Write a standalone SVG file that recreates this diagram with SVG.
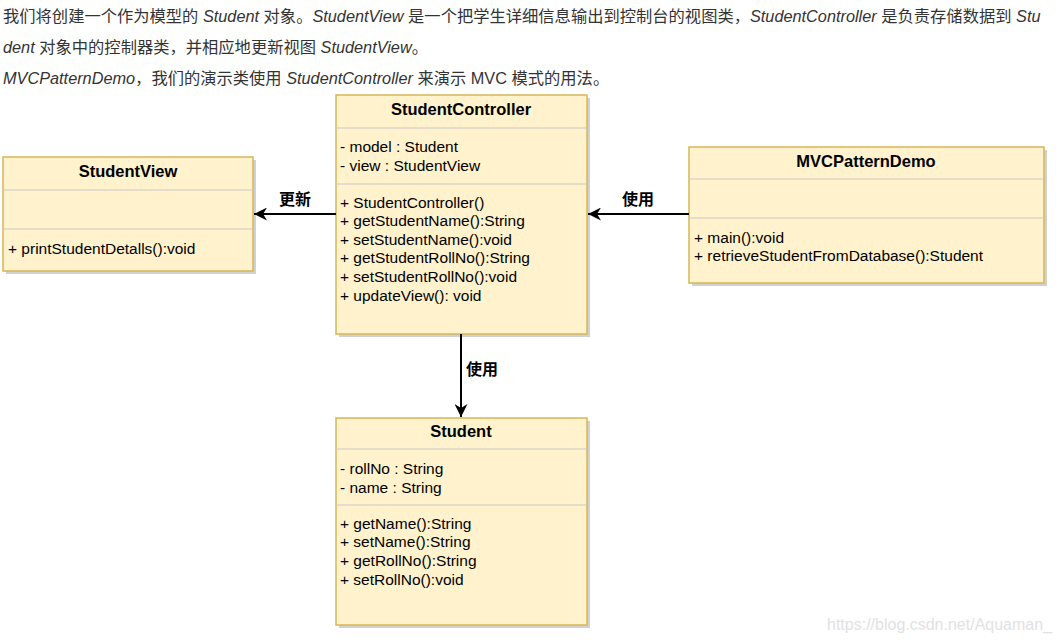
<svg xmlns="http://www.w3.org/2000/svg" width="1058" height="642" viewBox="0 0 1058 642">
<style>
.intro{font-family:"Liberation Sans","Noto Sans CJK SC",sans-serif;font-size:16.3px;fill:#333}
.i{font-style:italic}
.box{fill:#fff2cc;stroke:#d6b656;stroke-width:1.5}
.shadow{fill:#000;opacity:0.18}
.div{stroke:#c8c8c8;stroke-width:1}
.t{font-family:"Liberation Sans","Noto Sans CJK SC",sans-serif;font-size:15.5px;fill:#000}
.h{font-weight:bold;text-anchor:middle;font-size:16.5px}
.lbl{font-family:"Liberation Sans","Noto Sans CJK SC",sans-serif;font-size:16px;font-weight:bold;fill:#000;text-anchor:middle}
.edge{stroke:#000;stroke-width:2;fill:none}
.wm{font-family:"Liberation Sans",sans-serif;font-size:16px;fill:#e2e2e2}
</style>
<defs>
<marker id="arr" viewBox="0 0 10 10" refX="10" refY="5" markerWidth="6.5" markerHeight="6.5" orient="auto" markerUnits="strokeWidth">
<path d="M0,0 L10,5 L0,10 L3,5 z" fill="#000"/>
</marker>
</defs>
<rect width="1058" height="642" fill="#fff"/>
<g id="intro">
<text class="intro" x="3" y="22">我们将创建一个作为模型的 <tspan class="i">Student</tspan> 对象。<tspan class="i">StudentView</tspan> 是一个把学生详细信息输出到控制台的视图类，<tspan class="i">StudentController</tspan> 是负责存储数据到 <tspan class="i">Stu</tspan></text>
<text class="intro" x="3" y="53"><tspan class="i">dent</tspan> 对象中的控制器类，并相应地更新视图 <tspan class="i">StudentView</tspan>。</text>
<text class="intro" x="3" y="84"><tspan class="i">MVCPatternDemo</tspan>，我们的演示类使用 <tspan class="i">StudentController</tspan> 来演示 MVC 模式的用法。</text>
</g>
<g id="StudentView">
<rect class="shadow" x="6" y="160" width="250" height="114"/>
<rect class="box" x="3" y="157" width="250" height="114"/>
<line class="div" x1="3" y1="190" x2="253" y2="190"/>
<line class="div" x1="3" y1="229" x2="253" y2="229"/>
<text class="t h" x="128" y="177">StudentView</text>
<text class="t" x="8" y="253.5">+ printStudentDetalls():void</text>
</g>
<g id="StudentController">
<rect class="shadow" x="339" y="98" width="251" height="239"/>
<rect class="box" x="336" y="95" width="251" height="239"/>
<line class="div" x1="336" y1="128" x2="587" y2="128"/>
<line class="div" x1="336" y1="184" x2="587" y2="184"/>
<text class="t h" x="461" y="115">StudentController</text>
<text class="t" x="340" y="152">- model : Student</text>
<text class="t" x="340" y="170.5">- view : StudentView</text>
<text class="t" x="340" y="207.5">+ StudentController()</text>
<text class="t" x="340" y="226">+ getStudentName():String</text>
<text class="t" x="340" y="244.7">+ setStudentName():void</text>
<text class="t" x="340" y="263.3">+ getStudentRollNo():String</text>
<text class="t" x="340" y="282">+ setStudentRollNo():void</text>
<text class="t" x="340" y="300.7">+ updateView(): void</text>
</g>
<g id="MVCPatternDemo">
<rect class="shadow" x="692" y="150" width="355" height="136"/>
<rect class="box" x="689" y="147" width="355" height="136"/>
<line class="div" x1="689" y1="179" x2="1044" y2="179"/>
<line class="div" x1="689" y1="218" x2="1044" y2="218"/>
<text class="t h" x="866" y="167">MVCPatternDemo</text>
<text class="t" x="694" y="242.5">+ main():void</text>
<text class="t" x="694" y="261">+ retrieveStudentFromDatabase():Student</text>
</g>
<g id="Student">
<rect class="shadow" x="339" y="421" width="251" height="207"/>
<rect class="box" x="336" y="418" width="251" height="207"/>
<line class="div" x1="336" y1="449" x2="587" y2="449"/>
<line class="div" x1="336" y1="505" x2="587" y2="505"/>
<text class="t h" x="461" y="437">Student</text>
<text class="t" x="340" y="473.5">- rollNo : String</text>
<text class="t" x="340" y="492.5">- name : String</text>
<text class="t" x="340" y="528.5">+ getName():String</text>
<text class="t" x="340" y="547">+ setName():String</text>
<text class="t" x="340" y="565.5">+ getRollNo():String</text>
<text class="t" x="340" y="584.5">+ setRollNo():void</text>
</g>
<g id="connectors">
<line class="edge" x1="336" y1="214" x2="254" y2="214" marker-end="url(#arr)"/>
<text class="lbl" x="295" y="205">更新</text>
<line class="edge" x1="689" y1="214" x2="588" y2="214" marker-end="url(#arr)"/>
<text class="lbl" x="638" y="205">使用</text>
<line class="edge" x1="461" y1="334" x2="461" y2="417" marker-end="url(#arr)"/>
<text class="lbl" x="482" y="375">使用</text>
</g>
<text class="wm" x="827" y="630">https://blog.csdn.net/Aquaman_</text>
</svg>
